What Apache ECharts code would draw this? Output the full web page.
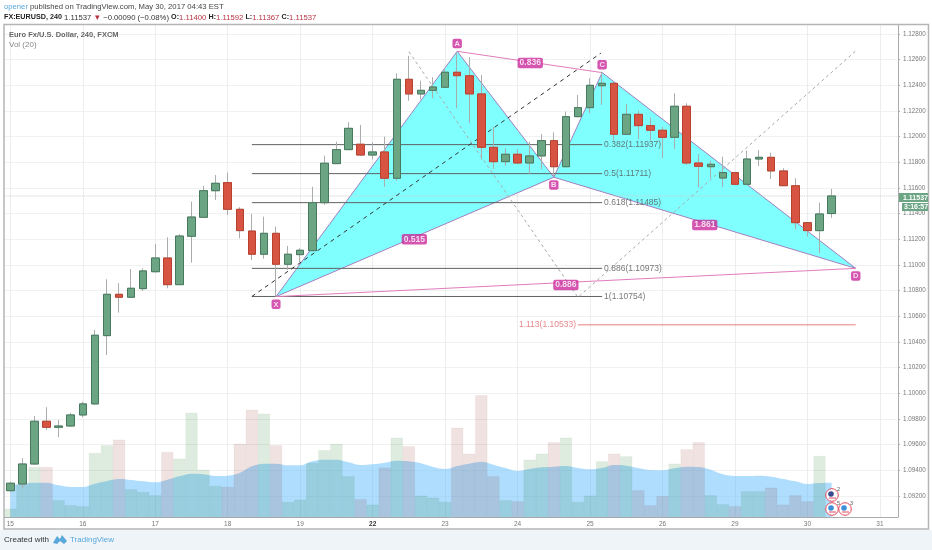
<!DOCTYPE html>
<html><head><meta charset="utf-8">
<style>html,body{margin:0;padding:0;background:#fff}#c{width:932px;height:550px}</style>
<script src="https://cdn.jsdelivr.net/npm/echarts@6/dist/echarts.min.js"></script>
</head><body><div id="c"></div>
<script>
const tickDays = ['15','16','17','18','19','22','23','24','25','26','29','30','31'];
const priceTicks = [1.092,1.094,1.096,1.098,1.1,1.102,1.104,1.106,1.108,1.11,1.112,1.114,1.116,1.118,1.12,1.122,1.124,1.126,1.128];
const opens = [1.09241,1.09293,1.09449,1.09782,1.09735,1.09745,1.09831,1.09917,1.10449,1.10771,
1.10748,1.10815,1.10947,1.11054,1.10846,1.11223,1.11371,1.11578,1.11641,1.11433,
1.11264,1.11083,1.11246,1.11005,1.1108,1.11111,1.11485,1.11789,1.11898,1.1194,
1.11856,1.1188,1.11675,1.12446,1.12332,1.1236,1.12384,1.12501,1.12474,1.12332,
1.11916,1.11804,1.11862,1.11794,1.11849,1.11968,1.11765,1.12155,1.12225,1.12396,
1.12415,1.12018,1.12173,1.12085,1.12049,1.11994,1.12236,1.11794,1.11765,1.11677,
1.11719,1.11628,1.11825,1.11838,1.11732,1.11617,1.11329,1.11267,1.114];
const closes = [1.09299,1.09449,1.09782,1.09735,1.09745,1.09831,1.09917,1.10452,1.10771,1.10748,
1.10818,1.10953,1.11054,1.10846,1.11225,1.11373,1.11578,1.11636,1.11433,1.11267,
1.11083,1.11246,1.11005,1.11083,1.11114,1.11485,1.11792,1.11898,1.12064,1.11856,
1.1188,1.11675,1.12446,1.12332,1.1236,1.12386,1.12501,1.12474,1.12332,1.11916,
1.11804,1.11862,1.11794,1.11849,1.11968,1.11765,1.12155,1.12225,1.12399,1.12415,
1.12018,1.12173,1.12085,1.12049,1.11994,1.12236,1.11794,1.11768,1.11784,1.11719,
1.11628,1.11825,1.11838,1.11732,1.11617,1.11329,1.11267,1.11397,1.11537];
const highs = [1.09311,1.09494,1.09823,1.09891,1.09792,1.09849,1.09935,1.10493,1.10888,1.10857,
1.10968,1.10974,1.11163,1.11215,1.11239,1.11493,1.11615,1.11701,1.11719,1.11449,
1.11397,1.11376,1.11298,1.11148,1.1113,1.11609,1.11851,1.1196,1.12111,1.1209,
1.11955,1.11999,1.12493,1.12628,1.12435,1.12462,1.12532,1.12649,1.12617,1.1248,
1.12077,1.11909,1.11901,1.1196,1.1202,1.12033,1.12194,1.12324,1.12454,1.12505,
1.1242,1.12254,1.12202,1.12147,1.12077,1.12337,1.12259,1.11864,1.11812,1.11843,
1.11724,1.1189,1.11895,1.11874,1.11753,1.11675,1.11332,1.11485,1.11592];
const lows = [1.09233,1.0926,1.09445,1.09714,1.09657,1.0974,1.09813,1.09915,1.10298,1.10628,
1.10745,1.10797,1.1094,1.10818,1.10843,1.11017,1.11368,1.11506,1.11389,1.11207,
1.11038,1.11049,1.10753,1.10961,1.11015,1.11108,1.11467,1.11786,1.11895,1.11849,
1.11823,1.11609,1.11656,1.12279,1.1229,1.12298,1.12382,1.1222,1.12108,1.11823,
1.11747,1.11771,1.11784,1.11708,1.11745,1.11687,1.1176,1.1215,1.12181,1.12246,
1.11968,1.12013,1.11981,1.11968,1.11831,1.11903,1.11778,1.11605,1.11675,1.11609,
1.11623,1.11623,1.11771,1.11669,1.11615,1.11276,1.1122,1.11091,1.11367];
const volumes = [25,98,150,150,50,35,32,192,215,232,83,75,65,195,175,313,142,93,90,220,
322,310,215,45,52,162,200,220,122,53,37,148,238,212,64,58,45,268,190,365,
122,50,47,172,190,224,238,45,64,167,190,182,80,35,63,160,203,224,65,38,
32,77,77,88,37,65,47,183,null];
const volumeMA = [95,100,103,103,95,90,90,100,108,114,111,107,104,112,122,130,128,123,124,132,
152,160,160,155,155,167,172,172,164,156,158,163,169,167,161,150,144,153,160,166,
157,147,138,144,149,151,153,147,143,147,156,154,147,141,140,146,151,150,142,128,
123,123,124,121,114,107,99,102,103];
const patternIndex = [22,37,45,49,70];
const patternPrice = [1.10753,1.12664,1.11683,1.12498,1.10973];
const patternNames = ['X','A','B','C','D'];
const ratioNames = ['0.836','0.886','0.515','1.861'];
const ratioIndex = [43.05,46,33.45,57.5];
const ratioPrice = [1.12573,1.10844,1.1120,1.11311];
const fibRatios = ['0.382','0.5','0.618','0.886','1'];
const fibPrices = [1.11937,1.11711,1.11485,1.10973,1.10754];
const fibStart = 20, fibEnd = 49;
const extLevelName = '1.113', extLevelPrice = 1.10533, extStart = 47, extEnd = 70;
const diagBlack = [[20,1.10754],[48.9,1.1265]];
const diagGray = [[33,1.12661],[47,1.10747],[70,1.12667]];
const lastPrice = 1.11537;
const xLimits = [-0.5,73.5], yLimits = [1.09036,1.12869];

const categories = Array.from({length:74},(_,i)=> i%6===0 ? tickDays[i/6] : 'b'+i);
const up = i => closes[i] >= opens[i];
const isTick = i => i%6===0;
const font = 'Liberation Sans';
const pts = patternIndex.map((x,i)=>[x,patternPrice[i]]);
const triangles = [[0,1,2],[2,3,4]].map(t=>t.flatMap(k=>pts[k]));

function lineSeries(data, color, extra){
  return Object.assign({type:'line',xAxisIndex:1,yAxisIndex:0,data,symbol:'none',silent:true,z:4,
    lineStyle:{color,width:1}},extra||{});
}
function tagSeries(items,pos){
  return {type:'scatter',xAxisIndex:1,yAxisIndex:0,symbolSize:0,z:8,silent:true,
    data:items.map(o=>({value:o.v,label:{show:true,formatter:o.t}})),
    label:{show:true,position:pos,distance:3,color:'#fff',backgroundColor:'#cb2a9c',borderRadius:2,
      padding:[1,2,0.5,2],fontFamily:font,fontSize:pos==='inside'?8.5:7.5,fontWeight:'bold'}};
}
const series = [];
series.push({type:'line',xAxisIndex:0,yAxisIndex:1,data:volumeMA,smooth:0.4,symbol:'none',silent:true,z:1,
  lineStyle:{width:0},areaStyle:{color:'rgba(96,188,252,0.5)',opacity:1}});
series.push({type:'bar',xAxisIndex:0,yAxisIndex:1,barWidth:'100%',silent:true,z:2,
  data:volumes.map((v,i)=>({value:v,itemStyle:{color: up(i)?'rgba(0,110,10,0.13)':'rgba(130,15,0,0.12)',
    borderColor: up(i)?'rgba(0,70,10,0.08)':'rgba(90,13,0,0.08)',borderWidth:0.5}}))});
series.push({type:'custom',xAxisIndex:1,yAxisIndex:0,silent:true,z:3,data:triangles,
  renderItem:(p,api)=>({type:'polygon',shape:{points:[0,2,4].map(k=>api.coord([api.value(k),api.value(k+1)]))},
    style:{fill:'#80ffff',stroke:'#a27fc2',lineWidth:1}})});
series.push(lineSeries([[xLimits[0],lastPrice],[xLimits[1],lastPrice]],'#c6cfc9',{lineStyle:{color:'#c6cfc9',width:1,type:'dotted'}}));
fibPrices.forEach(p=>series.push(lineSeries([[fibStart,p],[fibEnd,p]],'#5e6260')));
series.push(lineSeries([[extStart,extLevelPrice],[extEnd,extLevelPrice]],'#e77f7f'));
series.push(lineSeries(diagBlack,'#333',{lineStyle:{color:'#333',width:1,type:[4,4]}}));
series.push(lineSeries(diagGray,'#aaa',{lineStyle:{color:'#aaa',width:1,type:[3,3]}}));
series.push(lineSeries([pts[1],pts[3]],'#e27cbd'));
series.push(lineSeries([pts[0],pts[4]],'#e27cbd'));
series.push({type:'candlestick',xAxisIndex:0,yAxisIndex:0,barWidth:8,silent:true,z:5,
  data:opens.map((o,i)=>[o,closes[i],lows[i],highs[i]]),
  itemStyle:{color:'#a9aeac',color0:'#a9aeac',borderColor:'#a9aeac',borderColor0:'#a9aeac',borderWidth:1}});
series.push({type:'candlestick',xAxisIndex:0,yAxisIndex:0,barWidth:8,silent:true,z:6,
  data:opens.map((o,i)=>[o,closes[i],Math.min(o,closes[i]),Math.max(o,closes[i])]),
  itemStyle:{color:'#6ba583',color0:'#d75442',borderColor:'#46795e',borderColor0:'#b9402f',borderWidth:1}});
series.push({type:'scatter',xAxisIndex:1,yAxisIndex:0,symbolSize:0,z:7,silent:true,
  data:fibPrices.map((p,i)=>({value:[fibEnd,p],label:{formatter:fibRatios[i]+'('+p.toFixed(5)+')'}})),
  label:{show:true,position:'right',distance:2,color:'#555',fontFamily:font,fontSize:8.5}});
series.push({type:'scatter',xAxisIndex:1,yAxisIndex:0,symbolSize:0,z:7,silent:true,
  data:[{value:[extStart,extLevelPrice],label:{formatter:extLevelName+'('+extLevelPrice.toFixed(5)+')'}}],
  label:{show:true,position:'left',distance:2,color:'#e2696b',fontFamily:font,fontSize:8.5}});
series.push(tagSeries(ratioNames.map((t,i)=>({t,v:[ratioIndex[i],ratioPrice[i]]})),'inside'));
series.push(tagSeries(patternNames.map((t,i)=>({t,v:pts[i]})).filter(o=>o.t==='A'||o.t==='C'),'top'));
series.push(tagSeries(patternNames.map((t,i)=>({t,v:pts[i]})).filter(o=>o.t!=='A'&&o.t!=='C'),'bottom'));

const txt = (x,y,text,fontSize,fill,extra)=>({type:'text',x,y,z:50,silent:true,
  style:Object.assign({text,fontSize,fill,fontFamily:font,textVerticalAlign:'middle'},extra||{})});
const rings = [[832,495,'2','#3b4a8c'],[832,509,'5','#3f8fd8'],[845,509,'3','#3f8fd8']];
const graphic = [
  {type:'rect',z:-1,silent:true,shape:{x:0,y:530,width:932,height:20},style:{fill:'#eff4f8'}},
  {type:'rect',z:49,silent:true,shape:{x:4,y:24.5,width:924.5,height:504.5},style:{fill:'none',stroke:'#b3b5b6',lineWidth:1.5}},
  {type:'rect',z:49,silent:true,shape:{x:899,y:193,width:29,height:9},style:{fill:'#6ba583'}},
  {type:'rect',z:49,silent:true,shape:{x:902,y:203,width:26,height:8},style:{fill:'#6ba583'}},
  txt(903,197.7,'1.11537',7,'#fff',{fontWeight:'bold'}),
  txt(904,207.2,'3:16:57',7,'#fff',{fontWeight:'bold'}),
  {type:'text',x:4,y:7,z:50,silent:true,style:{text:'{a|opener} published on TradingView.com, May 30, 2017 04:43 EST',
    fontFamily:font,fontSize:7.7,fill:'#444',textVerticalAlign:'middle',rich:{a:{fill:'#58a8dc',fontFamily:font,fontSize:7.7}}}},
  {type:'text',x:4,y:17.5,z:50,silent:true,style:{
    text:'{b|FX:EURUSD, 240} 1.11537 {r|▼} −0.00090 (−0.08%) {b|O:}{r|1.11400} {b|H:}{r|1.11592} {b|L:}{r|1.11367} {b|C:}{r|1.11537}',
    fontFamily:font,fontSize:7.7,fill:'#333',textVerticalAlign:'middle',
    rich:{b:{fontWeight:'bold',fontFamily:font,fontSize:7.2,fill:'#222'},r:{fill:'#b8323f',fontFamily:font,fontSize:7.7}}}},
  txt(9,35,'Euro Fx/U.S. Dollar, 240, FXCM',7.5,'#666',{fontWeight:'bold'}),
  txt(9,45,'Vol (20)',8,'#888'),
  txt(4,540,'Created with',8,'#333'),
  {type:'polygon',z:50,silent:true,shape:{points:[[53,543],[57,536],[60,539],[62,535],[67,541],[64,544],[60,541],[57,544]]},style:{fill:'#58a8dc'}},
  txt(70,540,'TradingView',8,'#58a8dc'),
].concat(rings.flatMap(r=>[
  {type:'circle',z:20,silent:true,shape:{cx:r[0],cy:r[1],r:6.3},style:{fill:'#fff',stroke:'#e2495b',lineWidth:1}},
  {type:'circle',z:21,silent:true,shape:{cx:r[0]-1,cy:r[1]-1,r:2.8},style:{fill:r[3]}},
  {type:'line',z:21,silent:true,shape:{x1:r[0]-3,y1:r[1]+3,x2:r[0]+4,y2:r[1]+3},style:{stroke:'#e2495b',lineWidth:1}},
  txt(r[0]+5,r[1]-6,r[2],5.5,'#555')
]));

const chart = echarts.init(document.getElementById('c'),null,{renderer:'canvas'});
chart.setOption({
  animation:false,backgroundColor:'#fff',
  grid:{left:4.3,top:25,width:893.7,height:492,containLabel:false,show:false},
  graphic,
  xAxis:[
    {type:'category',data:categories,boundaryGap:true,
      axisLine:{onZero:false,lineStyle:{color:'#a9abac',width:1}},
      axisTick:{alignWithLabel:true,length:2,interval:isTick,lineStyle:{color:'#888'}},
      axisLabel:{interval:isTick,margin:4,color:'#777',fontFamily:font,fontSize:6.5,
        formatter:v=>v==='22'?'{b|22}':v,rich:{b:{fontWeight:'bold',color:'#333',fontFamily:font,fontSize:6.5}}},
      splitLine:{show:true,alignWithLabel:true,interval:isTick,lineStyle:{color:'#ebedee',width:1}}},
    {type:'value',min:xLimits[0],max:xLimits[1],show:false,splitLine:{show:false}}
  ],
  yAxis:[
    {type:'value',position:'right',min:yLimits[0],max:yLimits[1],scale:true,
      axisLine:{show:true,onZero:false,lineStyle:{color:'#a9abac',width:1}},
      axisTick:{show:true,length:2,customValues:priceTicks,lineStyle:{color:'#a9abac'}},
      axisLabel:{customValues:priceTicks,margin:5,color:'#777',fontFamily:font,fontSize:6.3,formatter:v=>v.toFixed(5)},
      splitLine:{show:true,lineStyle:{color:'#f0f2f2',width:1}}},
    {type:'value',min:0,max:1476,show:false,splitLine:{show:false}}
  ],
  series
});
</script></body></html>
